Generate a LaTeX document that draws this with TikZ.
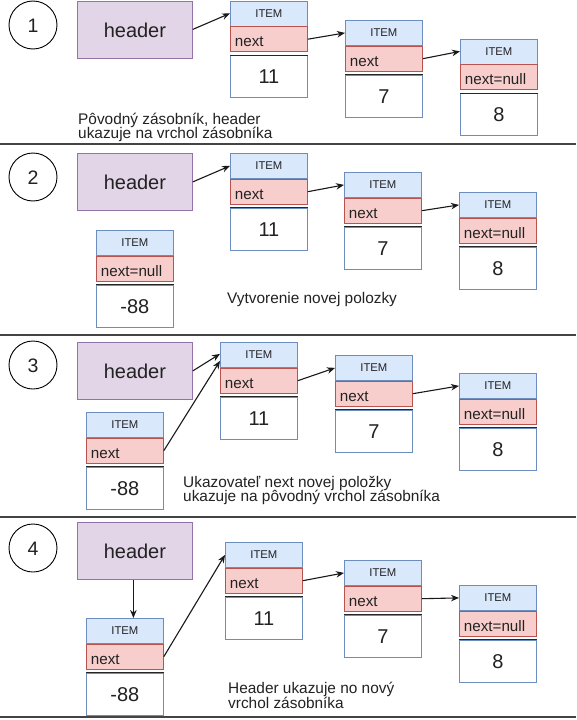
\documentclass[tikz,border=0pt]{standalone}
\usepackage{fontspec}
\setmainfont{Liberation Sans}
\usetikzlibrary{arrows.meta,calc}
\definecolor{hdrfill}{HTML}{E1D5E7}
\definecolor{hdrdraw}{HTML}{9673A6}
\definecolor{bluefill}{HTML}{DAE8FC}
\definecolor{bluedraw}{HTML}{6C8EBF}
\definecolor{redfill}{HTML}{F8CECC}
\definecolor{reddraw}{HTML}{B85450}
\definecolor{txt}{HTML}{222222}
\definecolor{sepcol}{HTML}{444444}
\tikzset{
  itemh/.style={draw=bluedraw, fill=bluefill, line width=0.8pt, minimum width=77pt, minimum height=25pt, inner sep=0pt, font=\fontsize{11.3}{11.3}\selectfont, text=txt, text height=8.1pt, text depth=0pt, anchor=north west},
  itemn/.style={draw=reddraw, fill=redfill, line width=0.8pt, text width=68pt, inner xsep=4.5pt, inner ysep=0pt, minimum height=25pt, align=left, font=\fontsize{15.2}{15.2}\selectfont, text height=15pt, text depth=0pt, text=txt, anchor=north west},
  itemv/.style={draw=bluedraw, fill=white, line width=0.8pt, minimum width=77pt, minimum height=42pt, inner sep=0pt, font=\fontsize{20}{20}\selectfont, text height=14.3pt, text depth=0pt, text=txt, anchor=north west},
  hdr/.style={draw=hdrdraw, fill=hdrfill, line width=0.8pt, minimum width=115pt, minimum height=57pt, inner sep=0pt, font=\fontsize{20}{20}\selectfont, text height=16pt, text depth=0pt, text=txt, anchor=north west},
  num/.style={circle, draw=black, line width=0.9pt, fill=white, minimum size=48pt, inner sep=0pt, font=\fontsize{19.5}{19.5}\selectfont, text height=14pt, text depth=0pt, text=txt},
  note/.style={anchor=base west, inner sep=0pt, font=\fontsize{15.4}{15.4}\selectfont, text=txt},
  ptr/.style={-{Stealth[length=8pt,width=6.5pt]}, line width=1.1pt, draw=black!90},
  sepline/.style={line width=1.3pt, draw=sepcol},
  valline/.style={line width=1.1pt, draw=black!85}
}
\newcommand\stackitem[5]{%
  \node[itemh] (#1h) at (#2,#3) {ITEM};
  \node[itemn] (#1n) at (#1h.south west) {#4};
  \node[itemv] (#1v) at ([yshift=-3.3pt]#1n.south west) {#5};
  \draw[valline] (#1v.north west) -- (#1v.north east);
}
\begin{document}
\begin{tikzpicture}[x=1pt,y=-1pt]
\useasboundingbox (0,0) rectangle (576,720);
\fill[white] (0,0) rectangle (576,720);

% separators
\draw[sepline] (0,144) coordinate (s1a) -- (576,144) coordinate (s1b);
\draw[sepline] (0,335) coordinate (s2a) -- (576,335) coordinate (s2b);
\draw[sepline] (0,517) coordinate (s3a) -- (576,517) coordinate (s3b);
\draw[sepline] (0,717) coordinate (s4a) -- (576,717) coordinate (s4b);

% ---------- panel 1 ----------
\node[num] (c1) at (33,25) {1};
\node[hdr] (hd1) at (77,0.5) {header};
\stackitem{a1}{230}{0.5}{next}{11}
\stackitem{a2}{345}{20}{next}{7}
\stackitem{a3}{460}{38.5}{next=null}{8}
\draw[ptr] (hd1.east) -- (a1h.west);
\draw[ptr] (a1n.east) -- (a2h.west);
\draw[ptr] (a2n.east) -- (a3h.west);
\node[note] (t1a) at (78,124) {Pôvodný zásobník, header};
\node[note] (t1b) at (78,138.5) {ukazuje na vrchol zásobníka};

% ---------- panel 2 ----------
\node[num] (c2) at (33,177) {2};
\node[hdr] (hd2) at (77,153) {header};
\stackitem{b1}{230}{153}{next}{11}
\stackitem{b2}{344}{172}{next}{7}
\stackitem{b3}{459}{192}{next=null}{8}
\stackitem{bn}{96}{230}{next=null}{-88}
\draw[ptr] (hd2.east) -- (b1h.west);
\draw[ptr] (b1n.east) -- (b2h.west);
\draw[ptr] (b2n.east) -- (b3h.west);
\node[note] (t2) at (227,303) {Vytvorenie novej polozky};

% ---------- panel 3 ----------
\node[num] (c3) at (33,365) {3};
\node[hdr] (hd3) at (77,342) {header};
\stackitem{d1}{220}{342}{next}{11}
\stackitem{d2}{335}{355}{next}{7}
\stackitem{d3}{459}{373}{next=null}{8}
\stackitem{dn}{86}{412}{next}{-88}
\draw[ptr] (hd3.east) -- ([yshift=1pt]d1h.west);
\draw[ptr] (dnn.east) -- ([yshift=-6pt]d1h.west);
\draw[ptr] (d1n.east) -- (d2h.west);
\draw[ptr] (d2n.east) -- (d3h.west);
\node[note] (t3a) at (183,487) {Ukazovateľ next novej položky};
\node[note] (t3b) at (183,501.5) {ukazuje na pôvodný vrchol zásobníka};

% ---------- panel 4 ----------
\node[num] (c4) at (33,548) {4};
\node[hdr] (hd4) at (77,522) {header};
\stackitem{e1}{225}{542}{next}{11}
\stackitem{e2}{344}{560}{next}{7}
\stackitem{e3}{459}{585}{next=null}{8}
\stackitem{en}{86}{618}{next}{-88}
\draw[ptr] ([xshift=-1.5pt]hd4.south) -- ([xshift=-1.5pt]hd4.south |- enh.north);
\draw[ptr] (enn.east) -- (e1h.west);
\draw[ptr] (e1n.east) -- (e2h.west);
\draw[ptr] (e2n.east) -- (e3h.west);
\node[note] (t4a) at (228,693) {Header ukazuje no nový};
\node[note] (t4b) at (228,708) {vrchol zásobníka};
\end{tikzpicture}
\end{document}
